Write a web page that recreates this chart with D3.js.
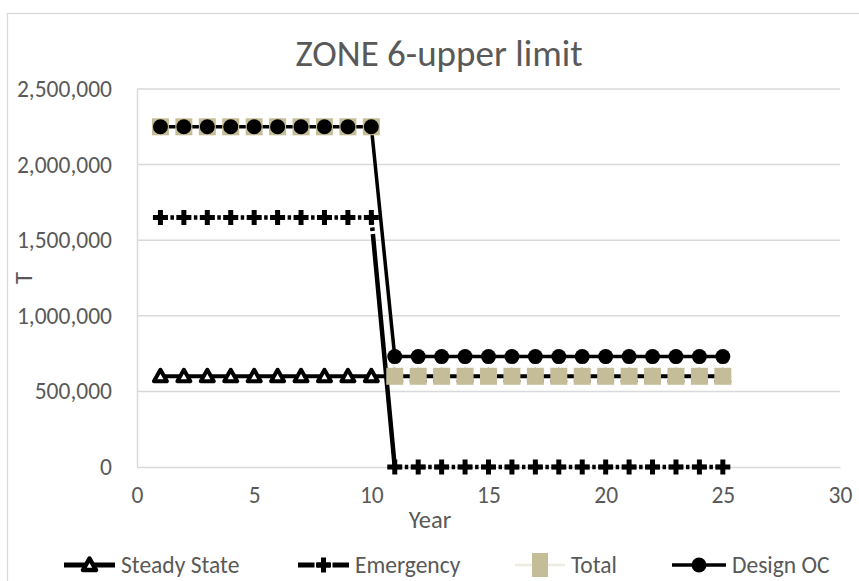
<!DOCTYPE html>
<html>
<head>
<meta charset="utf-8">
<script src="https://cdn.jsdelivr.net/npm/d3@7"></script>
<style>
  html, body { margin: 0; padding: 0; background: #fff; }
  svg { display: block; }
  text { font-family: Carlito, Calibri, Lato, sans-serif; fill: #595959; }
</style>
</head>
<body>
<svg id="chart" width="859" height="581"></svg>
<script>
// Year of operation
const years = [1, 2, 3, 4, 5, 6, 7, 8, 9, 10, 11, 12, 13, 14, 15, 16, 17, 18, 19, 20, 21, 22, 23, 24, 25];

// Tonnage per series
const steadyState = [600000, 600000, 600000, 600000, 600000, 600000, 600000, 600000, 600000, 600000,
                     600000, 600000, 600000, 600000, 600000, 600000, 600000, 600000, 600000, 600000,
                     600000, 600000, 600000, 600000, 600000];
const emergency   = [1650000, 1650000, 1650000, 1650000, 1650000, 1650000, 1650000, 1650000, 1650000, 1650000,
                     0, 0, 0, 0, 0, 0, 0, 0, 0, 0, 0, 0, 0, 0, 0];
const total       = [2250000, 2250000, 2250000, 2250000, 2250000, 2250000, 2250000, 2250000, 2250000, 2250000,
                     600000, 600000, 600000, 600000, 600000, 600000, 600000, 600000, 600000, 600000,
                     600000, 600000, 600000, 600000, 600000];
const designOC    = [2250000, 2250000, 2250000, 2250000, 2250000, 2250000, 2250000, 2250000, 2250000, 2250000,
                     730000, 730000, 730000, 730000, 730000, 730000, 730000, 730000, 730000, 730000,
                     730000, 730000, 730000, 730000, 730000];

const xTicks = [0, 5, 10, 15, 20, 25, 30];
const yTicks = [0, 500000, 1000000, 1500000, 2000000, 2500000];

const seriesNames = ["Steady State", "Emergency", "Total", "Design OC"];

const svg = d3.select("#chart");
const plot = { left: 137, right: 840, top: 89, bottom: 467 };

const x = d3.scaleLinear().domain([0, 30]).range([plot.left, plot.right]);
const y = d3.scaleLinear().domain([0, 2500000]).range([plot.bottom, plot.top]);

const grid = "#d9d9d9";
const fmt = d3.format(",");
const fontStack = "Carlito, Calibri, Lato, sans-serif";

// chart area outline
svg.append("rect")
  .attr("x", 7.5).attr("y", 13.5).attr("width", 880).attr("height", 600)
  .attr("fill", "none").attr("stroke", grid).attr("stroke-width", 1.3);

// title
svg.append("text")
  .attr("x", 439).attr("y", 66)
  .attr("text-anchor", "middle")
  .style("font-size", "37px")
  .text("ZONE 6-upper limit");

// horizontal gridlines
svg.append("g")
  .selectAll("line")
  .data(yTicks.filter(d => d > 0))
  .join("line")
  .attr("x1", plot.left).attr("x2", plot.right)
  .attr("y1", d => y(d)).attr("y2", d => y(d))
  .attr("stroke", grid).attr("stroke-width", 1.5);

// y axis
const yAxis = svg.append("g")
  .attr("transform", `translate(${plot.left},0)`)
  .call(d3.axisLeft(y).tickValues(yTicks).tickFormat(fmt).tickSize(0).tickPadding(25));
yAxis.select(".domain").attr("stroke", grid).attr("stroke-width", 1.5);
yAxis.selectAll("text")
  .style("font-size", "23.5px").style("font-family", fontStack)
  .attr("fill", "#595959");

// x axis
const xAxis = svg.append("g")
  .attr("transform", `translate(0,${plot.bottom})`)
  .call(d3.axisBottom(x).tickValues(xTicks).tickSize(0).tickPadding(19));
xAxis.select(".domain").attr("stroke", grid).attr("stroke-width", 1.5);
xAxis.selectAll("text")
  .style("font-size", "23.5px").style("font-family", fontStack)
  .attr("fill", "#595959");

// axis titles
svg.append("text")
  .attr("x", 430).attr("y", 528)
  .attr("text-anchor", "middle")
  .style("font-size", "24.5px")
  .text("Year");
svg.append("text")
  .attr("transform", "translate(32,278) rotate(-90)")
  .attr("text-anchor", "middle")
  .style("font-size", "24.5px")
  .text("T");

const pts = vals => years.map((yr, i) => [x(yr), y(vals[i])]);
const line = d3.line();

// marker shapes
const triPath = "M0,-6.5L6.5,5L-6.5,5Z";
const crossPath = d3.symbol(d3.symbolCross, 125)();

const lines = svg.append("g");
const marks = svg.append("g");

// Total line (light) underneath
lines.append("path")
  .attr("d", line(pts(total)))
  .attr("fill", "none").attr("stroke", "#eeece1").attr("stroke-width", 2.5);

// Steady State line
lines.append("path")
  .attr("d", line(pts(steadyState)))
  .attr("fill", "none").attr("stroke", "#000").attr("stroke-width", 4);

// Emergency: each segment dashed from its own start point
const ep = pts(emergency);
lines.append("g")
  .selectAll("path")
  .data(d3.pairs(ep))
  .join("path")
  .attr("d", d => line(d))
  .attr("fill", "none").attr("stroke", "#000").attr("stroke-width", 4.5)
  .attr("stroke-dasharray", "7,3,3.5,3,2000");

// Design OC line
lines.append("path")
  .attr("d", line(pts(designOC)))
  .attr("fill", "none").attr("stroke", "#000").attr("stroke-width", 3.5);

// markers
marks.append("g").selectAll("path")
  .data(pts(steadyState))
  .join("path")
  .attr("transform", d => `translate(${d[0]},${d[1]})`)
  .attr("d", triPath)
  .attr("fill", "#fff").attr("stroke", "#000").attr("stroke-width", 4)
  .attr("stroke-linejoin", "round");

marks.append("g").selectAll("path")
  .data(ep)
  .join("path")
  .attr("transform", d => `translate(${d[0]},${d[1]})`)
  .attr("d", crossPath)
  .attr("fill", "#000");

marks.append("g").selectAll("rect")
  .data(pts(total))
  .join("rect")
  .attr("x", d => d[0] - 8.5).attr("y", d => d[1] - 8.5)
  .attr("width", 17).attr("height", 17)
  .attr("fill", "#c4bd97");

marks.append("g").selectAll("circle")
  .data(pts(designOC))
  .join("circle")
  .attr("cx", d => d[0]).attr("cy", d => d[1]).attr("r", 7.5)
  .attr("fill", "#000");

// legend
const legendY = 565;
const legendItems = [
  { name: seriesNames[0], x0: 64,  x1: 115 },
  { name: seriesNames[1], x0: 298, x1: 349 },
  { name: seriesNames[2], x0: 515, x1: 565 },
  { name: seriesNames[3], x0: 672, x1: 726 }
];
const lg = svg.append("g");
legendItems.forEach((it, i) => {
  const g = lg.append("g");
  const cx = (it.x0 + it.x1) / 2;
  if (i === 0) {
    g.append("line").attr("x1", it.x0).attr("x2", it.x1).attr("y1", legendY).attr("y2", legendY)
      .attr("stroke", "#000").attr("stroke-width", 5);
    g.append("path").attr("transform", `translate(${cx},${legendY})`).attr("d", triPath)
      .attr("fill", "#fff").attr("stroke", "#000").attr("stroke-width", 4.5)
      .attr("stroke-linejoin", "round");
  } else if (i === 1) {
    g.append("line").attr("x1", it.x0).attr("x2", it.x1).attr("y1", legendY).attr("y2", legendY)
      .attr("stroke", "#000").attr("stroke-width", 5).attr("stroke-dasharray", "16.5,2.5,13,2.5,16.5");
    g.append("path").attr("transform", `translate(${cx},${legendY})`).attr("d", crossPath)
      .attr("fill", "#000");
  } else if (i === 2) {
    g.append("line").attr("x1", it.x0).attr("x2", it.x1).attr("y1", legendY).attr("y2", legendY)
      .attr("stroke", "#eeece1").attr("stroke-width", 2.5);
    g.append("rect").attr("x", cx - 8).attr("y", legendY - 12).attr("width", 16).attr("height", 24)
      .attr("fill", "#c4bd97");
  } else {
    g.append("line").attr("x1", it.x0).attr("x2", it.x1).attr("y1", legendY).attr("y2", legendY)
      .attr("stroke", "#000").attr("stroke-width", 3.5);
    g.append("circle").attr("cx", cx).attr("cy", legendY).attr("r", 7.5).attr("fill", "#000");
  }
  g.append("text")
    .attr("x", it.x1 + 6).attr("y", legendY)
    .attr("dy", "0.35em")
    .style("font-size", "23.5px")
    .text(it.name);
});
</script>
</body>
</html>
